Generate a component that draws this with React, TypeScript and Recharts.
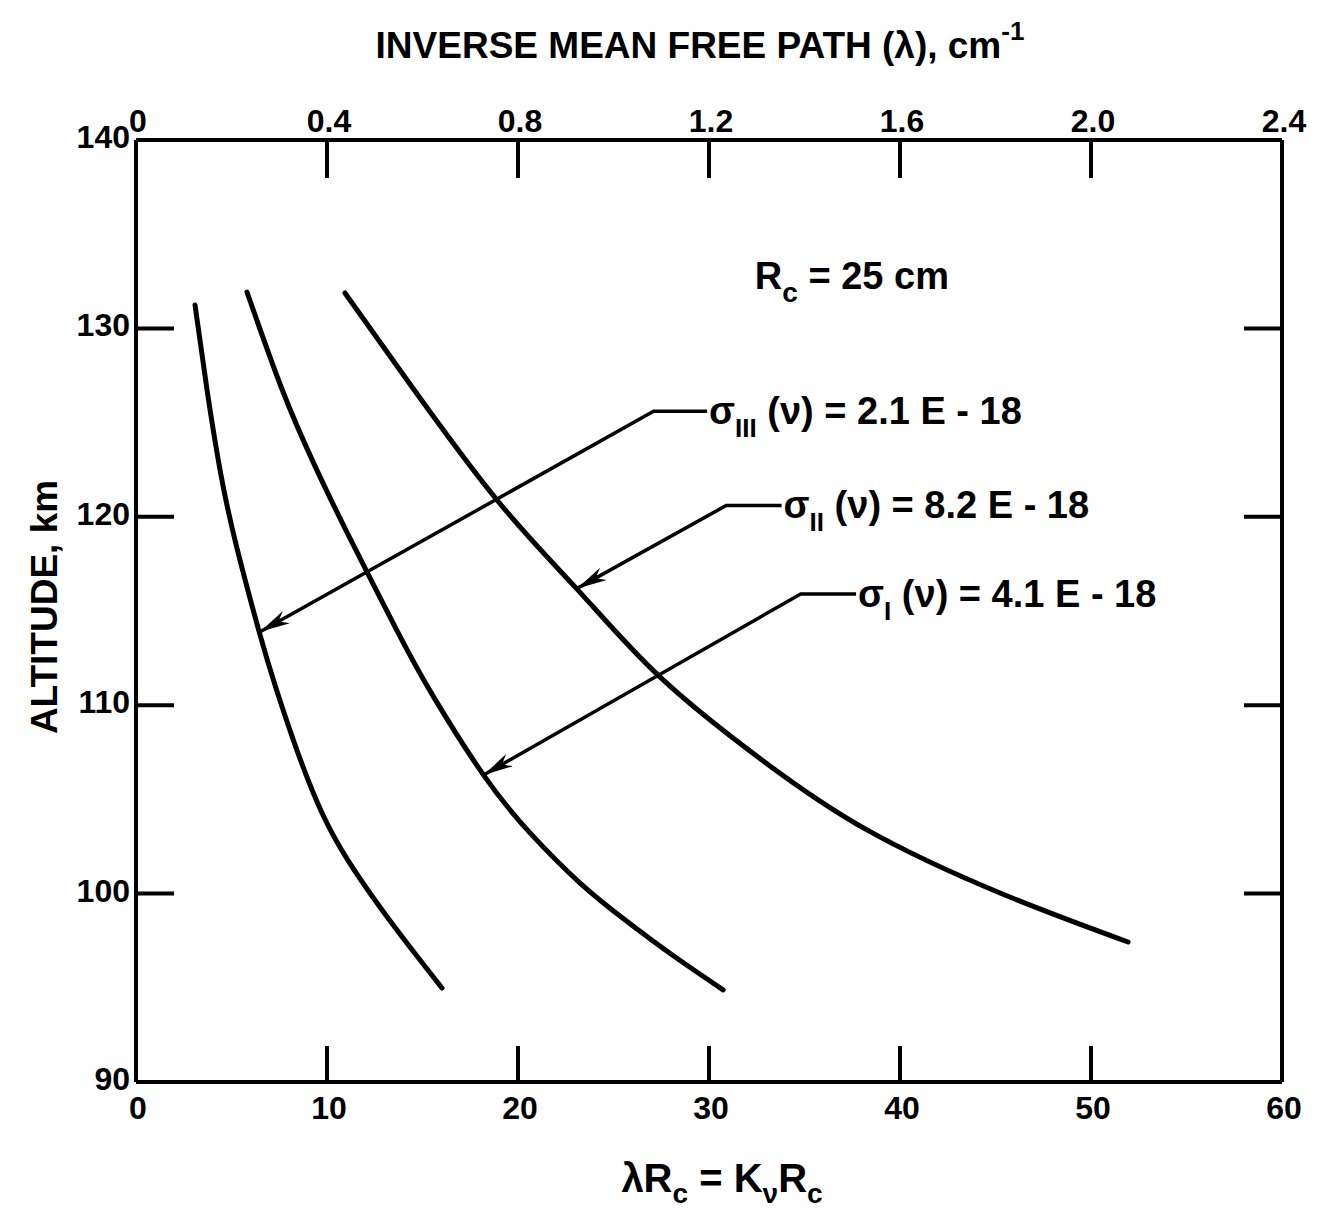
import React from 'react';
import { LineChart, Line, XAxis, YAxis, ReferenceDot } from 'recharts';

// bottom axis: lambda * Rc, top axis: lambda (cm^-1) = (lambda * Rc) / Rc, left: altitude (km)
const rcCm = 25;
const xTicks = [0, 10, 20, 30, 40, 50, 60];
const altTicks = [90, 100, 110, 120, 130, 140];

const sigma3 = [
  { x: 3.09, y: 131.24 },
  { x: 3.72, y: 126.73 },
  { x: 4.43, y: 122.32 },
  { x: 5.27, y: 118.4 },
  { x: 6.45, y: 113.89 },
  { x: 7.31, y: 110.97 },
  { x: 8.48, y: 107.46 },
  { x: 9.74, y: 104.28 },
  { x: 11.09, y: 101.78 },
  { x: 12.77, y: 99.29 },
  { x: 14.34, y: 97.17 },
  { x: 16.02, y: 94.99 },
];

const sigma2 = [
  { x: 5.81, y: 131.93 },
  { x: 7.66, y: 126.73 },
  { x: 9.3, y: 122.85 },
  { x: 11.04, y: 119.19 },
  { x: 13.65, y: 113.99 },
  { x: 15.59, y: 110.43 },
  { x: 18.2, y: 106.29 },
  { x: 20.63, y: 103.22 },
  { x: 23.25, y: 100.56 },
  { x: 25.61, y: 98.6 },
  { x: 28.08, y: 96.74 },
  { x: 30.74, y: 94.89 },
];

const sigma1 = [
  { x: 10.94, y: 131.88 },
  { x: 14.19, y: 127.26 },
  { x: 18.9, y: 120.89 },
  { x: 23.14, y: 116.11 },
  { x: 27.43, y: 111.5 },
  { x: 32.77, y: 107.09 },
  { x: 38.27, y: 103.38 },
  { x: 45.24, y: 100.03 },
  { x: 51.94, y: 97.43 },
];

// leader lines: arrow tip, elbow, end of horizontal run
const leader3 = [
  { x: 6.5, y: 113.9 },
  { x: 27.1, y: 125.6 },
  { x: 29.9, y: 125.6 },
];
const leader2 = [
  { x: 23.1, y: 116.2 },
  { x: 30.9, y: 120.6 },
  { x: 33.8, y: 120.6 },
];
const leader1 = [
  { x: 18.2, y: 106.3 },
  { x: 34.8, y: 115.9 },
  { x: 37.7, y: 115.9 },
];

const labels = [
  { sub: 'III', value: '2.1 E - 18' },
  { sub: 'II', value: '8.2 E - 18' },
  { sub: 'I', value: '4.1 E - 18' },
];

const rcAnchor = { x: 32.4, y: 132.1 };

const FONT = '"Liberation Sans", Arial, sans-serif';
const txt = { fontFamily: FONT, fontWeight: 700, fill: '#000' } as const;

const BottomTick = (props: any) => {
  const { x, y, payload } = props;
  const v = payload.value;
  return (
    <g>
      {v > 0 && v < 60 && (
        <line x1={x} x2={x} y1={y} y2={y - 36} stroke="#000" strokeWidth={4} />
      )}
      <text x={x + 2} y={y + 37} textAnchor="middle" fontSize={32} style={txt}>
        {v}
      </text>
    </g>
  );
};

const TopTick = (props: any) => {
  const { x, y, payload } = props;
  const v = payload.value;
  const lam = v / rcCm;
  return (
    <g>
      {v > 0 && v < 60 && (
        <line x1={x} x2={x} y1={y} y2={y + 38} stroke="#000" strokeWidth={4} />
      )}
      <text x={x + 2} y={y - 8} textAnchor="middle" fontSize={32} style={txt}>
        {lam === 0 ? '0' : lam.toFixed(1)}
      </text>
    </g>
  );
};

const LeftTick = (props: any) => {
  const { x, y, payload } = props;
  const v = payload.value;
  return (
    <g>
      {v > 90 && v < 140 && (
        <line x1={x} x2={x + 38} y1={y} y2={y} stroke="#000" strokeWidth={4} />
      )}
      <text x={x - 6} y={y + 8} textAnchor="end" fontSize={32} style={txt}>
        {v}
      </text>
    </g>
  );
};

const RightTick = (props: any) => {
  const { x, y, payload } = props;
  const v = payload.value;
  if (v <= 90 || v >= 140) return <g />;
  return <line x1={x} x2={x - 38} y1={y} y2={y} stroke="#000" strokeWidth={4} />;
};

const leaderLabel = (i: number) => (props: any) => {
  const { x, y, index } = props;
  if (index !== 2) return null;
  const l = labels[i];
  return (
    <text x={x + 2} y={y + 13} fontSize={38} style={txt}>
      <tspan>σ</tspan>
      <tspan dy={13} fontSize={26}>{l.sub}</tspan>
      <tspan dy={-13}> (ν) = {l.value}</tspan>
    </text>
  );
};

const rcLabel = (props: any) => {
  const { viewBox } = props;
  return (
    <text x={viewBox.x} y={viewBox.y} fontSize={38} style={txt}>
      <tspan>R</tspan>
      <tspan dy={13} fontSize={28}>c</tspan>
      <tspan dy={-13}> = 25 cm</tspan>
    </text>
  );
};

export default function App() {
  return (
    <div style={{ position: 'absolute', left: 0, top: 0, background: '#fff' }}>
      <LineChart
        width={1322}
        height={1220}
        margin={{ top: 40, right: 20, bottom: 20, left: 20 }}
      >
        <defs>
          <marker
            id="arrowHead"
            viewBox="0 0 10 10"
            refX={10}
            refY={5}
            markerWidth={30}
            markerHeight={14}
            markerUnits="userSpaceOnUse"
            preserveAspectRatio="none"
            orient="auto-start-reverse"
          >
            <path d="M0,0 L10,5 L0,10 L3,5 z" fill="#000" />
          </marker>
        </defs>
        <XAxis
          xAxisId="b"
          dataKey="x"
          type="number"
          domain={[0, 60]}
          ticks={xTicks}
          orientation="bottom"
          height={118}
          allowDataOverflow
          axisLine={{ stroke: '#000', strokeWidth: 4 }}
          tickLine={false}
          tickSize={0}
          tickMargin={0}
          tick={BottomTick}
          interval={0}
          label={{
            content: () => (
              <text x={722} y={1192} textAnchor="middle" fontSize={40} style={txt}>
                <tspan>λR</tspan>
                <tspan dy={11} fontSize={28}>c</tspan>
                <tspan dy={-11}> = K</tspan>
                <tspan dy={11} fontSize={28}>ν</tspan>
                <tspan dy={-11}>R</tspan>
                <tspan dy={11} fontSize={28}>c</tspan>
              </text>
            ),
          }}
        />
        <XAxis
          xAxisId="t"
          dataKey="x"
          type="number"
          domain={[0, 60]}
          ticks={xTicks}
          orientation="top"
          height={100}
          allowDataOverflow
          axisLine={{ stroke: '#000', strokeWidth: 4 }}
          tickLine={false}
          tickSize={0}
          tickMargin={0}
          tick={TopTick}
          interval={0}
          label={{
            content: () => (
              <text x={700} y={58} textAnchor="middle" fontSize={37} style={txt}>
                <tspan>INVERSE MEAN FREE PATH (λ), cm</tspan>
                <tspan dy={-18} fontSize={26}>-1</tspan>
              </text>
            ),
          }}
        />
        <YAxis
          yAxisId="l"
          dataKey="y"
          type="number"
          domain={[90, 140]}
          ticks={altTicks}
          orientation="left"
          width={116}
          allowDataOverflow
          axisLine={{ stroke: '#000', strokeWidth: 4 }}
          tickLine={false}
          tickSize={0}
          tickMargin={0}
          tick={LeftTick}
          interval={0}
          label={{
            content: () => (
              <text
                x={0}
                y={0}
                transform="translate(57,607) rotate(-90)"
                textAnchor="middle"
                fontSize={37}
                style={txt}
              >
                ALTITUDE, km
              </text>
            ),
          }}
        />
        <YAxis
          yAxisId="r"
          type="number"
          domain={[90, 140]}
          ticks={altTicks}
          orientation="right"
          width={20}
          allowDataOverflow
          axisLine={{ stroke: '#000', strokeWidth: 4 }}
          tickLine={false}
          tickSize={0}
          tickMargin={0}
          tick={RightTick}
          interval={0}
        />
        {[sigma3, sigma2, sigma1].map((d, i) => (
          <Line
            key={`c${i}`}
            xAxisId="b"
            yAxisId="l"
            data={d}
            dataKey="y"
            type="natural"
            stroke="#000"
            strokeWidth={5}
            strokeLinecap="round"
            dot={false}
            activeDot={false}
            isAnimationActive={false}
          />
        ))}
        {[leader3, leader2, leader1].map((d, i) => (
          <Line
            key={`l${i}`}
            xAxisId="t"
            yAxisId="l"
            data={d}
            dataKey="y"
            type="linear"
            stroke="#000"
            strokeWidth={3.5}
            markerStart="url(#arrowHead)"
            dot={false}
            activeDot={false}
            label={leaderLabel(i)}
            isAnimationActive={false}
          />
        ))}
        <ReferenceDot
          xAxisId="b"
          yAxisId="l"
          x={rcAnchor.x}
          y={rcAnchor.y}
          r={0}
          fill="none"
          stroke="none"
          label={rcLabel}
        />
      </LineChart>
    </div>
  );
}
